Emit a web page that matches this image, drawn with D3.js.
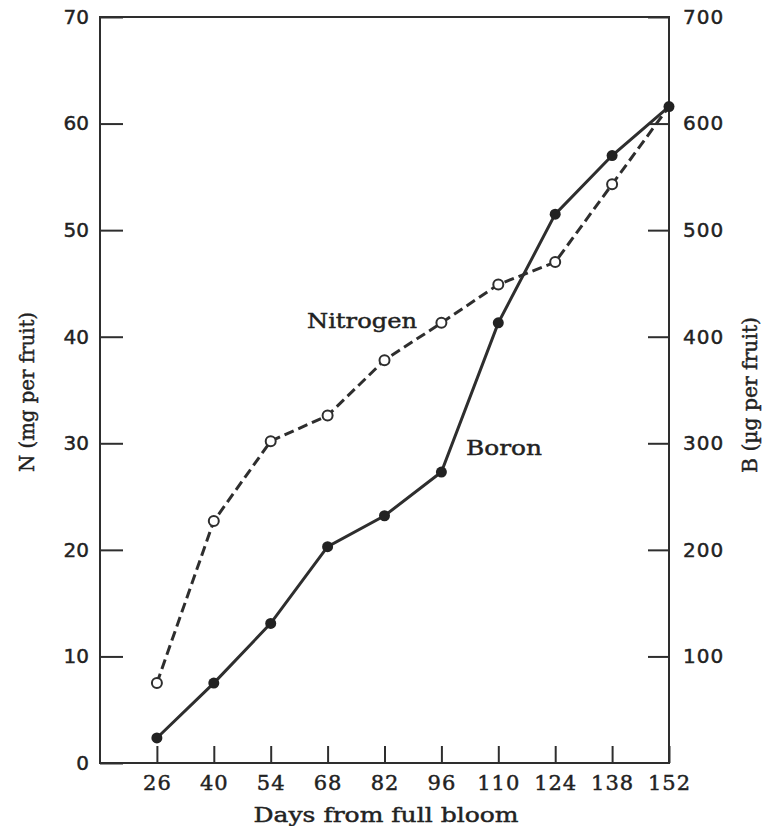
<!DOCTYPE html>
<html>
<head>
<meta charset="utf-8">
<script src="https://cdn.jsdelivr.net/npm/d3@7"></script>
<style>
  body { margin: 0; background: #fff; }
  svg { display: block; }
  text { stroke: #222; stroke-width: 0.45px; }
</style>
</head>
<body>
<svg id="chart"></svg>
<script>
// days from full bloom
const days = [26, 40, 54, 68, 82, 96, 110, 124, 138, 152];
// N (mg per fruit), dashed line, open circles
const nitrogen = [7.5, 22.7, 30.2, 32.6, 37.8, 41.3, 44.9, 47.0, 54.3, 61.6];
// B (ug per fruit), solid line, filled circles
const boron = [23.5, 75, 131, 203, 232, 273, 413, 515, 570, 616];

const nTicks = [0, 10, 20, 30, 40, 50, 60, 70];
const bTicks = [100, 200, 300, 400, 500, 600, 700];

const width = 767, height = 826;
const ink = "#2e2e2e";
const serif = "'DejaVu Serif', 'Liberation Serif', serif";
const sans = "'DejaVu Sans', 'Open Sans', sans-serif";

const svg = d3.select("#chart").attr("width", width).attr("height", height);

const x = d3.scaleLinear().domain([12, 152]).range([100, 669]);
const yN = d3.scaleLinear().domain([0, 70]).range([763, 17]);
const yB = d3.scaleLinear().domain([0, 700]).range([763, 17]);

// axes, ticks pointing inward
const gLeft = svg.append("g")
    .attr("transform", "translate(" + x.range()[0] + ",0)")
    .call(d3.axisLeft(yN).tickValues(nTicks).tickSizeInner(-23).tickSizeOuter(0).tickPadding(11));
const gRight = svg.append("g")
    .attr("transform", "translate(" + x.range()[1] + ",0)")
    .call(d3.axisRight(yB).tickValues(bTicks).tickSizeInner(-21).tickSizeOuter(0).tickPadding(14));
const gBottom = svg.append("g")
    .attr("transform", "translate(0," + yN.range()[0] + ")")
    .call(d3.axisBottom(x).tickValues(days).tickSizeInner(-17).tickSizeOuter(0).tickPadding(12));

[gLeft, gRight, gBottom].forEach(g => {
    g.select(".domain").remove();
    g.selectAll(".tick line").attr("stroke", ink).attr("stroke-width", 2);
});
gLeft.selectAll("text").style("font-family", sans).style("font-size", "20px").attr("fill", "#222");
gRight.selectAll("text").style("font-family", sans).style("font-size", "20px")
    .style("letter-spacing", "1px").attr("fill", "#222");
gBottom.selectAll("text").style("font-family", serif).style("font-size", "21px")
    .style("letter-spacing", "1px").attr("fill", "#222");

// frame
svg.append("rect")
    .attr("x", x.range()[0]).attr("y", yN.range()[1])
    .attr("width", x.range()[1] - x.range()[0])
    .attr("height", yN.range()[0] - yN.range()[1])
    .attr("fill", "none").attr("stroke", ink).attr("stroke-width", 2);

const nData = days.map((d, i) => ({ d: d, v: nitrogen[i] }));
const bData = days.map((d, i) => ({ d: d, v: boron[i] }));

svg.append("path").datum(bData)
    .attr("fill", "none").attr("stroke", ink).attr("stroke-width", 3)
    .attr("d", d3.line().x(p => x(p.d)).y(p => yB(p.v)));

svg.append("path").datum(nData)
    .attr("fill", "none").attr("stroke", ink).attr("stroke-width", 3)
    .attr("stroke-dasharray", "10,5")
    .attr("d", d3.line().x(p => x(p.d)).y(p => yN(p.v)));

svg.append("g").selectAll("circle").data(bData).join("circle")
    .attr("cx", p => x(p.d)).attr("cy", p => yB(p.v)).attr("r", 5.5)
    .attr("fill", "#222");

svg.append("g").selectAll("circle").data(nData.slice(0, -1)).join("circle")
    .attr("cx", p => x(p.d)).attr("cy", p => yN(p.v)).attr("r", 5)
    .attr("fill", "#fff").attr("stroke", ink).attr("stroke-width", 2);

// text helper: serif label stretched to the printed width
function label(txt, len) {
    return svg.append("text").text(txt)
        .attr("textLength", len).attr("lengthAdjust", "spacingAndGlyphs")
        .style("font-family", serif).style("font-size", "21px").attr("fill", "#222");
}

// series labels
label("Nitrogen", 110).attr("x", 307).attr("y", 328);
label("Boron", 76).attr("x", 466).attr("y", 455);

// axis titles
label("N (mg per fruit)", 160).attr("text-anchor", "middle")
    .attr("transform", "translate(34,392) rotate(-90)");
label("B (\u00b5g per fruit)", 156).attr("text-anchor", "middle")
    .attr("transform", "translate(757,395) rotate(-90)");
label("Days from full bloom", 265).attr("text-anchor", "middle")
    .attr("x", 386).attr("y", 822);
</script>
</body>
</html>
